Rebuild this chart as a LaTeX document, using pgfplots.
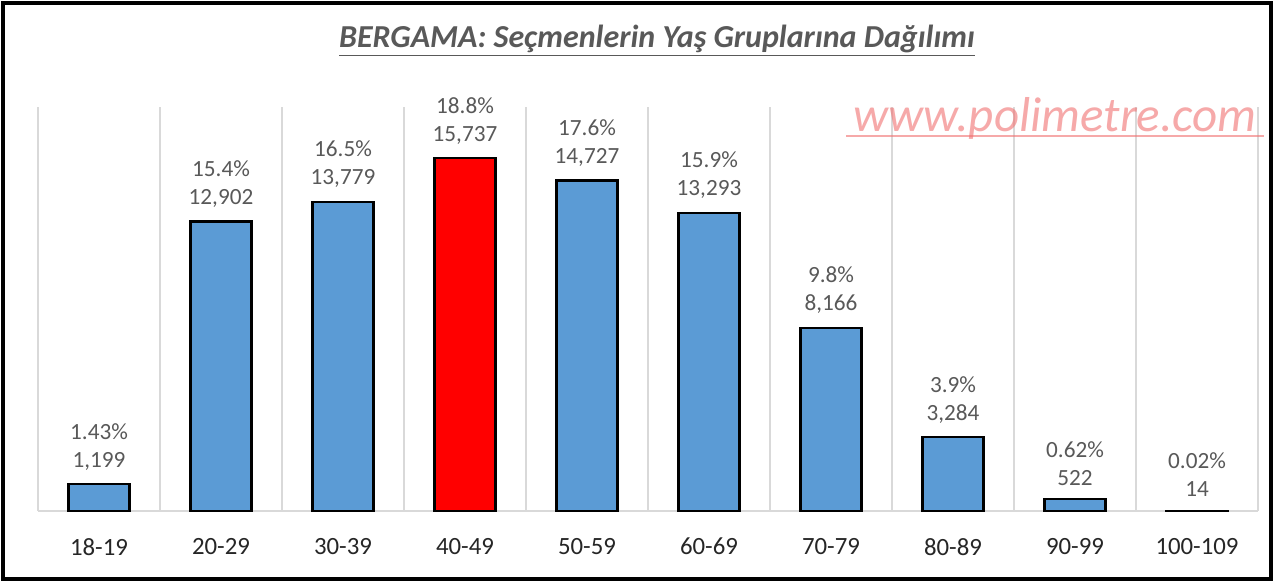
\documentclass[border=0pt]{standalone}
\usepackage{pgfplots}
\pgfplotsset{compat=1.18}
\usepackage{fontspec}
\setmainfont{Carlito}
\definecolor{barblue}{HTML}{5B9BD5}
\definecolor{titlegray}{HTML}{595959}
\definecolor{labgray}{HTML}{595959}
\definecolor{gridgray}{HTML}{D9D9D9}
\definecolor{wm}{HTML}{F07070}
\begin{document}
\begin{tikzpicture}
\useasboundingbox (0,0) rectangle (637pt,291pt);
\fill[white] (0,0) rectangle (637pt,291pt);
\begin{axis}[
  at={(19pt,35.5pt)}, anchor=south west,
  scale only axis, width=610pt, height=202pt,
  xmin=-0.5, xmax=9.5, ymin=0, ymax=18000,
  axis x line=bottom, axis y line=none,
  x axis line style={draw=gridgray, line width=0.8pt, -},
  xtick={0,...,9},
  xticklabels={18-19,20-29,30-39,40-49,50-59,60-69,70-79,80-89,90-99,100-109},
  major tick length=0pt,
  minor xtick={-0.5,0.5,...,9.5},
  minor tick length=0pt,
  xminorgrids, minor grid style={draw=gridgray, line width=0.8pt},
  xticklabel style={font=\fontsize{12.4}{14}\selectfont, text=black!85, yshift=-10pt},
  ybar, bar width=30.5pt, bar shift=0pt,
  point meta=explicit symbolic,
  nodes near coords={\pgfplotspointmeta},
  every node near coord/.append style={align=center, font=\fontsize{11.6}{14}\selectfont, text=labgray, yshift=3pt},
  clip=false,
]
\addplot[fill=barblue, draw=black, line width=1.1pt] coordinates {
  (0,1199) [{1.43\%\\1,199}]
  (1,12902) [{15.4\%\\12,902}]
  (2,13779) [{16.5\%\\13,779}]
  (4,14727) [{17.6\%\\14,727}]
  (5,13293) [{15.9\%\\13,293}]
  (6,8166) [{9.8\%\\8,166}]
  (7,3284) [{3.9\%\\3,284}]
  (8,522) [{0.62\%\\522}]
  (9,14) [{0.02\%\\14}]
};
\addplot[fill=red, draw=black, line width=1.1pt] coordinates {
  (3,15737) [{18.8\%\\15,737}]
};
\end{axis}
\node[font=\fontsize{16}{18}\selectfont\bfseries\itshape, text=titlegray] at (328.5pt,270.5pt) {\underline{BERGAMA: Seçmenlerin Yaş Gruplarına Dağılımı}};
\node[font=\fontsize{24.5}{28}\selectfont\itshape, text=wm, text opacity=0.6, anchor=base] (w) at (527.5pt,225pt) {www.polimetre.com};
\draw[wm, opacity=0.6, line width=0.6pt] ([yshift=-2pt]w.base west) -- ([yshift=-2pt]w.base east);
\draw[line width=1.6pt] (1.5pt,1.5pt) rectangle (635.5pt,289.5pt);
\end{tikzpicture}
\end{document}
